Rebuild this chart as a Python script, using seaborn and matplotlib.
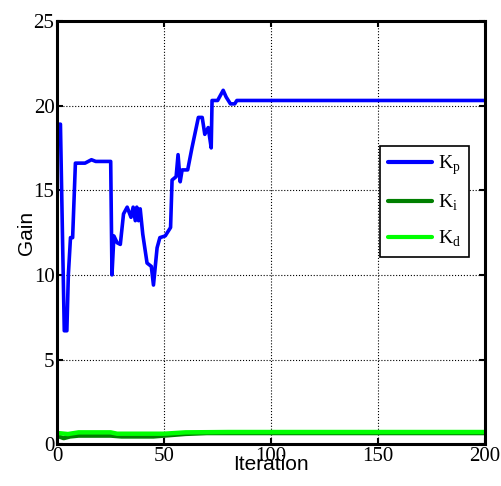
import matplotlib.pyplot as plt
import seaborn as sns
import pandas as pd
from matplotlib.lines import Line2D

# Lecturas aproximadas de la figura (iteración, ganancia)
kp_iter = [1, 1.5, 2.5, 3.3, 4.5, 5.2, 6.2, 7.2, 8.5, 9.2, 13, 16, 18, 25, 25.6,
           26.5, 28, 29.5, 31, 32.7, 34.5, 35.5, 36.5, 37.2, 38, 38.8, 40, 42,
           44, 45, 46.7, 48, 50.5, 53, 53.7, 55.6, 56.5, 57.5, 58.4, 61, 63,
           66, 67.8, 69, 70.6, 72, 72.4, 75, 77.6, 79, 81, 83, 84, 200]
kp_vals = [18.9, 18.9, 12.0, 6.7, 6.7, 10.0, 12.2, 12.2, 16.6, 16.6, 16.6, 16.8,
           16.7, 16.7, 10.0, 12.3, 11.9, 11.8, 13.6, 14.0, 13.4, 14.0, 13.2,
           14.0, 13.2, 13.9, 12.4, 10.7, 10.5, 9.4, 11.6, 12.2, 12.3, 12.8,
           15.6, 15.8, 17.1, 15.5, 16.2, 16.2, 17.5, 19.3, 19.3, 18.3, 18.7,
           17.5, 20.3, 20.3, 20.9, 20.5, 20.1, 20.1, 20.3, 20.3]

ki_iter = [1, 3, 6, 10, 25, 30, 45, 60, 70, 80, 120, 200]
ki_vals = [0.45, 0.35, 0.45, 0.5, 0.5, 0.45, 0.45, 0.6, 0.65, 0.65, 0.65, 0.65]

kd_iter = [1, 5, 10, 25, 28, 50, 60, 80, 120, 200]
kd_vals = [0.65, 0.6, 0.7, 0.7, 0.62, 0.62, 0.7, 0.72, 0.72, 0.72]

sns.set_theme(style="ticks")
plt.rcParams['text.color'] = 'black'
plt.rcParams['axes.labelcolor'] = 'black'
plt.rcParams['mathtext.fontset'] = 'custom'
plt.rcParams['mathtext.rm'] = 'Liberation Serif'

df = pd.concat([
    pd.DataFrame({'Iteration': kp_iter, 'Gain': kp_vals, 'serie': 'Kp'}),
    pd.DataFrame({'Iteration': ki_iter, 'Gain': ki_vals, 'serie': 'Ki'}),
    pd.DataFrame({'Iteration': kd_iter, 'Gain': kd_vals, 'serie': 'Kd'}),
])
colores = {'Kp': '#0000ff', 'Ki': '#007f00', 'Kd': '#00ff00'}

fig, ax = plt.subplots(figsize=(5.02, 4.86), dpi=100)
fig.subplots_adjust(left=0.114, right=0.966, top=0.957, bottom=0.086)

# el verde claro queda encima del oscuro, como en el original
for nombre, ancho in [('Ki', 3.0), ('Kd', 3.2), ('Kp', 2.6)]:
    sub = df[df['serie'] == nombre]
    sns.lineplot(data=sub, x='Iteration', y='Gain', color=colores[nombre],
                 linewidth=ancho, ax=ax, legend=False, estimator=None, sort=False)

ax.set_xlim(0, 200)
ax.set_ylim(0, 25)
ax.set_xticks([0, 50, 100, 150, 200])
ax.set_yticks([0, 5, 10, 15, 20, 25])
ax.grid(True, color='black', linestyle=':', linewidth=0.8)
for s in ax.spines.values():
    s.set_linewidth(2.2)
    s.set_color('black')
ax.tick_params(direction='in', length=4, width=1.5, top=True, right=True,
               labelsize=15, pad=2, colors='black')
for lab in ax.get_xticklabels() + ax.get_yticklabels():
    lab.set_family('Liberation Serif')

ax.set_xlabel('Iteration', fontsize=15, family='Liberation Sans', labelpad=-8)
ax.set_ylabel('Gain', fontsize=15, family='Liberation Sans', labelpad=-2)

handles = [Line2D([], [], color=colores[k], linewidth=3) for k in ['Kp', 'Ki', 'Kd']]
etiquetas = ['K$_\\mathregular{p}$', 'K$_\\mathregular{i}$', 'K$_\\mathregular{d}$']
leg = ax.legend(handles, etiquetas, loc='upper right', bbox_to_anchor=(0.985, 0.728),
                frameon=True, fancybox=False, framealpha=1, edgecolor='black',
                prop={'family': 'Liberation Serif', 'size': 14},
                handlelength=2.3, labelspacing=0.8, borderpad=0.4, handletextpad=0.3)
leg.get_frame().set_linewidth(1.2)

plt.savefig('out.png', dpi=100)
plt.close()
